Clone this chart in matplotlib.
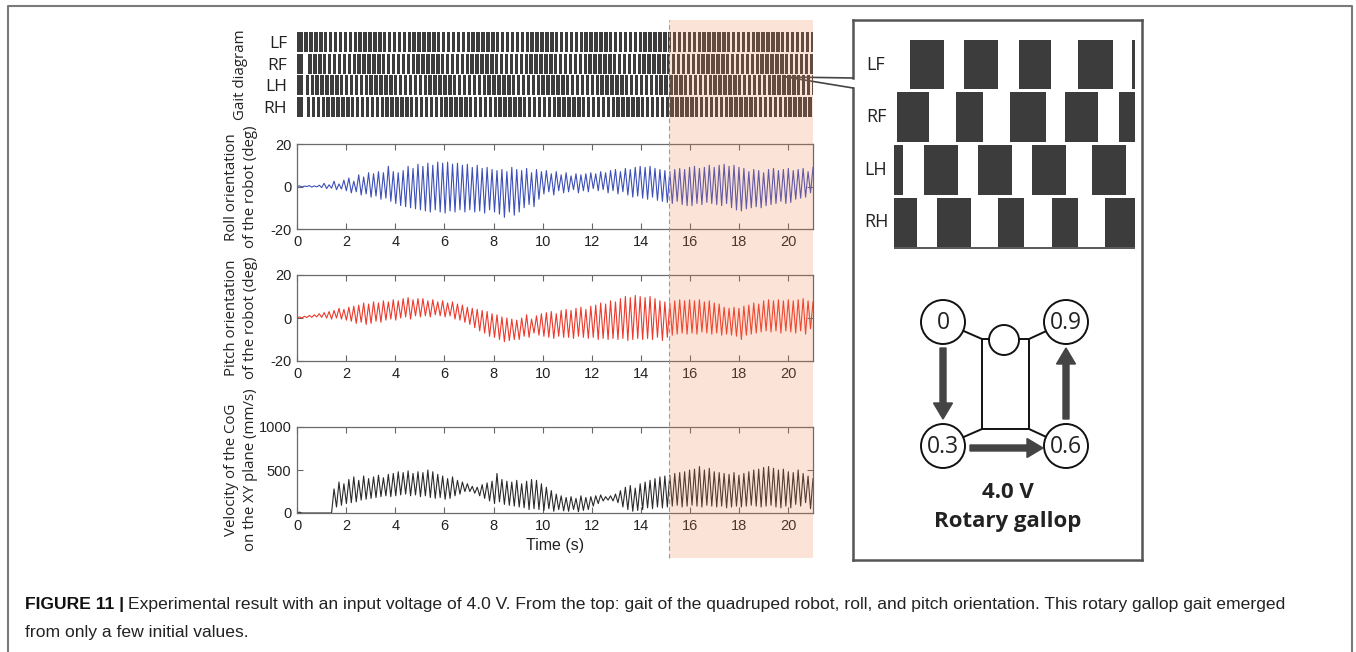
import numpy as np
import matplotlib
matplotlib.use('Agg')
import matplotlib.pyplot as plt
from matplotlib.patches import Rectangle, Circle, FancyArrow
from matplotlib.lines import Line2D
from matplotlib.transforms import blended_transform_factory

plt.rcParams['axes.unicode_minus'] = False

# ---------------- data ----------------
t_end = 21.0
shade_start = 15.15
time_ticks = [0, 2, 4, 6, 8, 10, 12, 14, 16, 18, 20]

# one trough and one peak per gait cycle (~0.2 s), 1 s per row
roll_peak = [0.3, 0.2, 0.4, 0.3, 0.6,
             1.5, 0.8, 2.5, 1.2, 3.0,
             4.0, 2.5, 5.5, 4.5, 6.5,
             6.0, 7.0, 6.5, 9.5, 7.0,
             6.5, 7.5, 9.5, 8.5, 10.5,
             9.5, 11.0, 10.0, 11.5, 11.0,
             11.5, 10.5, 11.0, 10.0, 10.5,
             9.0, 10.0, 8.5, 9.0, 8.0,
             7.5, 8.0, 7.0, 9.0, 8.0,
             7.5, 8.5, 6.5, 8.0, 7.0,
             7.5, 6.0, 7.0, 5.5, 6.5,
             5.0, 6.0, 5.5, 6.0, 6.5,
             6.0, 7.0, 6.5, 7.5, 8.0,
             7.0, 8.5, 8.0, 9.0, 9.5,
             9.0, 9.5, 8.5, 8.0, 7.5,
             7.0, 8.0, 8.5, 8.0, 9.0,
             9.5, 8.5, 9.0, 10.0, 9.0,
             10.0, 10.5, 9.5, 10.0, 9.0,
             8.5, 7.0, 8.0, 7.5, 6.5,
             8.0, 8.5, 7.5, 8.0, 8.5,
             7.5, 8.0, 8.5, 7.0, 9.0]
roll_trough = [0.0, -0.2, 0.0, -0.3, -0.2,
               -0.5, -1.0, -0.8, -1.5, -1.2,
               -2.0, -3.0, -2.5, -4.0, -3.5,
               -5.0, -4.5, -6.0, -5.5, -7.0,
               -8.0, -9.0, -9.5, -10.0, -10.5,
               -11.0, -11.5, -12.0, -11.0, -12.0,
               -12.5, -11.5, -12.0, -11.0, -12.0,
               -11.0, -12.0, -11.5, -12.5, -11.0,
               -12.0, -13.0, -14.5, -12.0, -13.5,
               -12.0, -10.0, -8.5, -9.5, -6.0,
               -3.5, -2.5, -4.0, -2.0, -3.0,
               -2.5, -1.5, -3.0, -2.0, -2.5,
               -1.0, -2.0, -1.5, -3.0, -2.0,
               -3.5, -2.5, -4.0, -5.0, -4.5,
               -5.5, -6.0, -5.0, -6.5, -7.0,
               -7.5, -8.0, -7.0, -8.5, -9.0,
               -9.0, -8.0, -8.5, -7.5, -8.0,
               -8.5, -9.0, -8.0, -10.0, -11.0,
               -11.5, -10.5, -10.0, -9.5, -10.0,
               -9.0, -8.5, -8.0, -7.0, -8.0,
               -7.5, -6.0, -5.5, -5.0, -3.0]

pitch_peak = [0.5, 0.8, 1.2, 1.5, 2.0,
              2.5, 3.0, 3.5, 4.5, 4.0,
              5.0, 5.5, 6.0, 7.0, 6.5,
              7.5, 7.0, 8.0, 7.5, 8.5,
              8.0, 9.0, 9.5, 8.5, 9.0,
              9.0, 8.0, 8.5, 7.5, 8.0,
              7.0, 7.5, 6.5, 6.0, 5.0,
              4.5, 4.0, 3.5, 3.0, 2.0,
              1.5, 0.5, 0.0, -0.5, -1.0,
              0.0, 1.5, -0.5, 1.0, 2.0,
              2.5, 3.0, 2.0, 3.5, 4.0,
              3.5, 4.5, 5.0, 4.0, 5.5,
              6.0, 7.0, 6.5, 8.0, 7.5,
              9.0, 10.0, 9.5, 10.5, 10.0,
              9.5, 10.0, 9.0, 8.0, 7.5,
              7.0, 8.0, 8.5, 8.0, 8.5,
              8.0, 8.5, 7.5, 8.0, 7.0,
              6.5, 5.0, 4.5, 5.0, 4.5,
              5.5, 6.0, 7.0, 6.5, 8.0,
              8.5, 8.0, 8.5, 8.0, 8.5,
              8.0, 8.5, 9.0, 8.0, 7.5]
pitch_trough = [0.0, 0.0, 0.2, 0.3, 0.5,
                0.3, 0.0, -0.5, 0.0, -0.5,
                -1.0, -1.5, -2.5, -2.0, -3.0,
                -2.5, -1.5, -2.0, -1.0, -0.5,
                -1.0, 0.0, 0.5, -0.5, 1.0,
                0.5, 1.0, 0.5, 1.5, 1.0,
                0.5, 1.0, -0.5, -1.0, -2.0,
                -3.0, -4.5, -6.0, -7.0, -8.5,
                -9.0, -10.0, -11.0, -10.5, -10.0,
                -10.0, -8.5, -9.0, -7.0, -8.0,
                -8.5, -9.0, -9.5, -8.5, -9.0,
                -9.0, -9.5, -8.5, -9.0, -9.5,
                -9.0, -10.0, -9.5, -10.0, -9.5,
                -10.0, -9.5, -10.5, -10.0, -9.5,
                -10.0, -9.5, -10.0, -9.0, -10.5,
                -9.0, -8.0, -7.5, -7.0, -7.5,
                -7.0, -7.5, -6.5, -7.0, -7.5,
                -7.0, -8.0, -7.5, -8.0, -8.5,
                -10.0, -8.0, -7.5, -7.0, -6.5,
                -6.0, -6.5, -6.0, -7.0, -6.0,
                -6.5, -7.0, -6.0, -7.5, -5.0]

vel_peak = [10, 0, 0, 0, 0,
            0, 0, 280, 360, 340,
            390, 420, 380, 430, 400,
            420, 440, 410, 450, 460,
            480, 470, 490, 460, 480,
            470, 500, 480, 450, 430,
            400, 420, 380, 360, 340,
            310, 300, 330, 350, 370,
            460, 390, 370, 360, 380,
            340, 370, 390, 380, 340,
            300, 260, 220, 200, 180,
            190, 170, 200, 180, 190,
            200, 210, 190, 200, 220,
            260, 300, 320, 290, 340,
            360, 380, 400, 420, 430,
            440, 460, 470, 480, 500,
            510, 540, 500, 520, 480,
            470, 460, 450, 470, 440,
            460, 480, 500, 510, 530,
            540, 520, 500, 510, 480,
            470, 500, 460, 430, 400]
vel_trough = [0, 0, 0, 0, 0,
              0, 0, 0, 70, 90,
              110, 120, 130, 150, 160,
              170, 180, 190, 200, 190,
              200, 210, 220, 200, 210,
              190, 200, 180, 170, 180,
              160, 170, 200, 220, 250,
              250, 230, 200, 170, 140,
              110, 130, 100, 90, 80,
              70, 60, 40, 50, 40,
              30, 50, 20, 40, 25,
              20, 40, 15, 30, 40,
              80, 110, 140, 150, 140,
              120, 70, 40, 20, 30,
              40, 60, 50, 70, 60,
              70, 80, 90, 70, 80,
              90, 80, 70, 90, 80,
              70, 80, 60, 70, 80,
              70, 80, 90, 80, 70,
              80, 90, 70, 60, 80,
              60, 100, 80, 120, 50]

# gait stripe (whole run)
gait_legs = ['LF', 'RF', 'LH', 'RH']
gait_period = 0.2
gait_duty = 0.7
gait_phase = [0.0, 0.8, 0.25, 0.5]
gait_stand = 0.24
gait_first = 0.3

# zoomed gait window (s): stance intervals per leg
zoom_window = 0.89
zoom_bars = {
    'LF': [(0.06, 0.185), (0.26, 0.385), (0.46, 0.58), (0.68, 0.81), (0.88, 0.89)],
    'RF': [(0.01, 0.13), (0.23, 0.33), (0.43, 0.56), (0.63, 0.755), (0.83, 0.89)],
    'LH': [(0.0, 0.035), (0.11, 0.235), (0.31, 0.435), (0.51, 0.635), (0.73, 0.855)],
    'RH': [(0.0, 0.085), (0.16, 0.285), (0.385, 0.48), (0.585, 0.68), (0.78, 0.89)],
}
phase_labels = ['0', '0.9', '0.3', '0.6']

caption_bold = 'FIGURE 11 |'
caption_1 = ('Experimental result with an input voltage of 4.0 V. From the top: gait of the '
             'quadruped robot, roll, and pitch orientation. This rotary gallop gait emerged')
caption_2 = 'from only a few initial values.'

# ---------------- figure ----------------
W, H = 1356, 652
fig = plt.figure(figsize=(W / 100, H / 100), dpi=100)
fig.patch.set_facecolor('white')

ov = fig.add_axes([0, 0, 1, 1], zorder=3)
ov.set_xlim(0, W)
ov.set_ylim(H, 0)
ov.axis('off')

L, R = 297, 813
def box(top, bottom):
    return [L / W, 1 - bottom / H, (R - L) / W, (bottom - top) / H]

bar_col = '#3c3c3c'
tick_font = ['Liberation Sans Narrow', 'Liberation Sans', 'DejaVu Sans']
lab_font = ['Open Sans', 'DejaVu Sans']

# gait stripe
ax_g = fig.add_axes(box(31, 118))
for i, leg in enumerate(gait_legs):
    bars = [(0, gait_stand)]
    on = gait_first + gait_phase[i] * gait_period
    while on < t_end:
        bars.append((on, gait_duty * gait_period))
        on += gait_period
    ax_g.broken_barh(bars, (i + 0.04, 0.92), facecolors=bar_col, edgecolor='none')
ax_g.set_xlim(0, t_end)
ax_g.set_ylim(4, 0)
ax_g.set_xticks([])
ax_g.set_yticks([0.5, 1.5, 2.5, 3.5], gait_legs, family=lab_font, fontsize=12.5, color='#222')
ax_g.tick_params(length=0, pad=7)
for s in ax_g.spines.values():
    s.set_visible(False)

def signal(ax, trough, peak, color, ylim, yticks):
    v = np.empty(2 * len(peak))
    v[0::2] = trough
    v[1::2] = peak
    t = np.linspace(0, t_end, len(v))
    ax.plot(t, v, color=color, lw=0.8)
    ax.set_xlim(0, t_end)
    ax.set_ylim(*ylim)
    ax.set_xticks(time_ticks)
    ax.set_yticks(yticks)
    ax.tick_params(direction='in', top=True, right=True, length=4, width=0.8,
                   color='#666', labelcolor='#222', labelsize=10.5, pad=4)
    for lab in ax.get_xticklabels() + ax.get_yticklabels():
        lab.set_family(tick_font)
    for s in ax.spines.values():
        s.set_color('#6a6a6a')
        s.set_linewidth(0.9)

ax_r = fig.add_axes(box(144, 229))
signal(ax_r, roll_trough, roll_peak, '#3d4fb8', (-20, 20), [-20, 0, 20])
ax_p = fig.add_axes(box(275, 361))
signal(ax_p, pitch_trough, pitch_peak, '#ec3a2c', (-20, 20), [-20, 0, 20])
ax_v = fig.add_axes(box(427, 513))
signal(ax_v, vel_trough, vel_peak, '#2a2a2a', (0, 1000), [0, 500, 1000])
ax_v.set_xlabel('Time (s)', family=tick_font, fontsize=11.5, color='#222', labelpad=4)

# y labels
ylab_kw = dict(rotation=90, ha='center', va='center', family=lab_font,
               fontsize=10.8, color='#222', multialignment='center', linespacing=1.3)
ov.text(241, 75, 'Gait diagram', **ylab_kw)
ov.text(241, 187, 'Roll orientation\nof the robot (deg)', **ylab_kw)
ov.text(241, 318, 'Pitch orientation\nof the robot (deg)', **ylab_kw)
ov.text(241, 470, 'Velocity of the CoG\non the XY plane (mm/s)', **ylab_kw)

# shaded window + dashed marker
blend = blended_transform_factory(ax_v.transData, fig.transFigure)
fig.add_artist(Rectangle((shade_start, 1 - 558 / H), t_end - shade_start, (558 - 20) / H,
                         transform=blend, facecolor='#F08250', alpha=0.22,
                         edgecolor='none', zorder=10))
fig.add_artist(Line2D([shade_start, shade_start], [1 - 558 / H, 1 - 20 / H], transform=blend,
                      color='#9a9a9a', lw=0.8, ls=(0, (4, 3)), zorder=11))

# right panel frame and callout
edge = '#555555'
for xs, ys in [([853, 853], [20, 78]), ([853, 853], [88, 560]), ([853, 1142], [20, 20]),
               ([1142, 1142], [20, 560]), ([853, 1142], [560, 560])]:
    ov.plot(xs, ys, color=edge, lw=1.8, solid_capstyle='projecting')
ov.plot([786, 853], [77, 78], color='#444', lw=1.2)
ov.plot([786, 853], [77, 88], color='#444', lw=1.2)

# outer frame
ov.plot([8, 8, 1352, 1352], [H, 6, 6, H], color='#7a7a7a', lw=1.5)

# zoomed gait
ax_z = fig.add_axes([894 / W, 1 - 249 / H, 241 / W, 211 / H])
for i, leg in enumerate(gait_legs):
    ax_z.broken_barh([(a, b - a) for a, b in zoom_bars[leg]], (i + 0.03, 0.94),
                     facecolors=bar_col, edgecolor='none')
    ov.text(876, [65, 117, 170, 222][i], leg, ha='center', va='center',
            family=lab_font, fontsize=13, color='#222')
ax_z.axhline(3.99, color=bar_col, lw=1.2)
ax_z.set_xlim(0, zoom_window)
ax_z.set_ylim(4, 0)
ax_z.axis('off')

# phase diagram
circ_xy = [(943, 322), (1066, 322), (943, 446), (1066, 446)]
lk = dict(color='#111', lw=1.4)
ov.plot([943, 982], [322, 339], **lk)
ov.plot([1066, 1029], [322, 339], **lk)
ov.plot([943, 982], [446, 429], **lk)
ov.plot([1066, 1029], [446, 429], **lk)
ov.plot([982, 1029, 1029, 982, 982], [339, 339, 429, 429, 339], **lk)
ov.add_patch(Circle((1004, 340), 15, facecolor='white', edgecolor='#111', lw=1.4, zorder=4))
for (cx, cy), lab in zip(circ_xy, phase_labels):
    ov.add_patch(Circle((cx, cy), 22, facecolor='white', edgecolor='#111', lw=1.4, zorder=4))
    ov.text(cx, cy + 1, lab, ha='center', va='center', family=lab_font, fontsize=16.5,
            color='#222', zorder=5)
ak = dict(width=6, head_width=19, head_length=16, length_includes_head=True,
          color='#444', zorder=4)
ov.add_patch(FancyArrow(943, 348, 0, 71, **ak))
ov.add_patch(FancyArrow(1066, 419, 0, -71, **ak))
ov.add_patch(FancyArrow(970, 448, 73, 0, **ak))
ov.text(1008, 493, '4.0 V', ha='center', va='center', family=lab_font, fontsize=16,
        fontweight='bold', color='#222')
ov.text(1008, 522, 'Rotary gallop', ha='center', va='center', family=lab_font, fontsize=16,
        fontweight='bold', color='#222')

# caption, sized to the width of the first line
rend = fig.canvas.get_renderer()
cap_fs = 11.5
cap_font = ['Liberation Sans', 'DejaVu Sans']
tb = ov.text(25, 605, caption_bold, ha='left', va='center', family=cap_font,
             fontsize=cap_fs, fontweight='bold', color='#111')
t1 = ov.text(0, 605, caption_1, ha='left', va='center', family=cap_font,
             fontsize=cap_fs, color='#222')
t2 = ov.text(25, 632, caption_2, ha='left', va='center', family=cap_font,
             fontsize=cap_fs, color='#222')
total = tb.get_window_extent(rend).width + 4 + t1.get_window_extent(rend).width
cap_fs *= (1288 - 25) / total
for t in (tb, t1, t2):
    t.set_fontsize(cap_fs)
t1.set_x(25 + tb.get_window_extent(rend).width + 4)

fig.savefig('out.png', dpi=100)
